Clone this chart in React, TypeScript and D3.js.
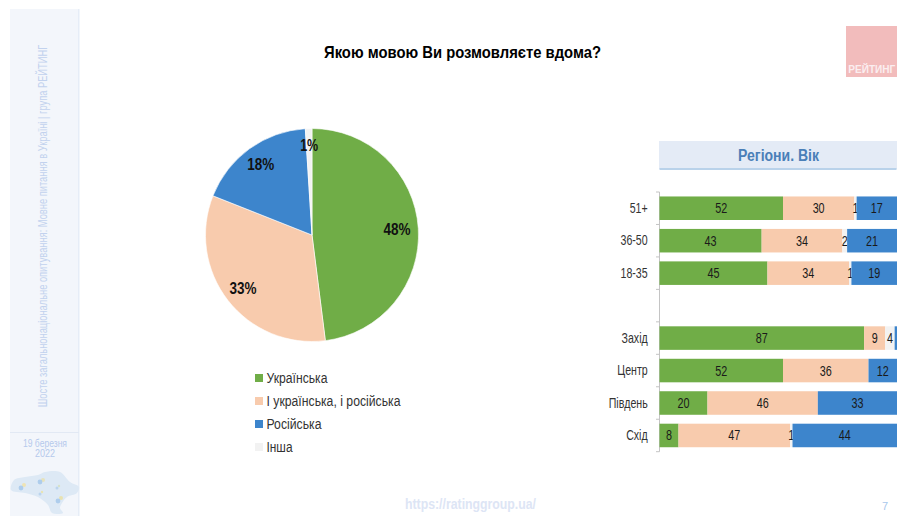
import React from "react";
import * as d3 from "d3";

const WIDTH = 905;
const HEIGHT = 516;

const pieLabels = ["Українська", "І українська, і російська", "Російська", "Інша"];
const pieValues = [48, 33, 18, 1];
const palette = ["#70ad47", "#f8cbad", "#3d85cc", "#f2f2f2"];

const rowLabels = ["51+", "36-50", "18-35", "", "Захід", "Центр", "Південь", "Схід"];
const ukrainian = [52, 43, 45, 0, 87, 52, 20, 8];
const both = [30, 34, 34, 0, 9, 36, 46, 47];
const other = [1, 2, 1, 0, 4, 0, 0, 1];
const russian = [17, 21, 19, 0, 1, 12, 33, 44];

const FONT = "'Liberation Sans', Arial, sans-serif";

// Simplified outline of Ukraine with the small city markers on top of it
const mapOutline = d3.line().curve(d3.curveCatmullRomClosed)([
  [11, 490], [14, 480], [25, 477], [38, 475], [45, 472], [60, 472], [70, 482], [79, 487],
  [77, 493], [67, 497], [62, 503], [60, 508], [63, 513], [52, 513], [48, 505], [38, 497], [25, 493],
]) as string;
const mapMarkers: [number, number, number, string][] = [
  [24, 485, 2, "#eee3b4"], [43, 480, 2, "#e6e2bc"], [59, 486, 1.2, "#d8e2c8"], [42, 492, 1.2, "#e8e4b4"], [61, 498, 2, "#e8e2b0"],
  [21, 488, 2.4, "#aecdec"], [40, 482, 2.4, "#aecdec"], [57, 488, 1.5, "#bcd5ee"], [40, 494, 1.5, "#bcd5ee"], [58, 501, 2.4, "#aecdec"],
];

export default function App() {
  // Pie of the overall answer
  const pieCx = 312;
  const pieCy = 235;
  const pieR = 106.5;
  const arcs = d3.pie<number>().sort(null)(pieValues);
  const arc = d3.arc<d3.PieArcDatum<number>>().innerRadius(0).outerRadius(pieR);
  const labelRadius = [0.8, 0.82, 0.82, 0.845];

  // Stacked bars by age and region, each row filling the full width
  const rows = rowLabels.map((label, i) => ({
    label,
    ukrainian: ukrainian[i],
    both: both[i],
    other: other[i],
    russian: russian[i],
  }));
  const keys = ["ukrainian", "both", "other", "russian"];
  const seriesColor = [palette[0], palette[1], palette[3], palette[2]];
  const stacked = d3
    .stack<(typeof rows)[number]>()
    .keys(keys)
    .offset(d3.stackOffsetExpand)(rows);
  const x = d3.scaleLinear().domain([0, 1]).range([659.5, 897]);
  const y = d3.scaleBand<string>().domain(rowLabels).range([192, 451.7]).paddingInner(0.275).paddingOuter(0.1375);
  const boundaries = d3.range(rowLabels.length + 1).map((i) => 192 + (i * (451.7 - 192)) / rowLabels.length);

  return (
    <svg
      width={WIDTH}
      height={HEIGHT}
      viewBox={`0 0 ${WIDTH} ${HEIGHT}`}
      style={{ position: "absolute", left: 0, top: 0, background: "#fff" }}
      fontFamily={FONT}
    >
      {/* Side strip */}
      <rect x={10} y={9} width={69} height={507} fill="#f3f6fb" />
      <rect x={78} y={9} width={1.5} height={507} fill="#e6edf7" />
      <line x1={10} x2={79} y1={432.5} y2={432.5} stroke="#e2e9f4" />
      <text
        transform="translate(42.5,226) rotate(-90) scale(0.776,1)"
        textAnchor="middle"
        dominantBaseline="central"
        fontSize={12}
        fill="#c2d2ee"
      >
        Шосте загальнонаціональне опитування: Мовне питання в Україні | група РЕЙТИНГ
      </text>
      <text x={45} y={447} textAnchor="middle" fontSize={10} fill="#b5c9ec" textLength={44} lengthAdjust="spacingAndGlyphs">
        19 березня
      </text>
      <text x={45} y={457} textAnchor="middle" fontSize={10} fill="#b5c9ec" textLength={20} lengthAdjust="spacingAndGlyphs">
        2022
      </text>
      <path d={mapOutline} fill="#dde9f5" />
      {mapMarkers.map(([cx, cy, r, c], i) => (
        <circle key={i} cx={cx} cy={cy} r={r} fill={c} />
      ))}

      {/* Heading and logo */}
      <text
        x={462.5}
        y={58}
        textAnchor="middle"
        fontSize={17}
        fontWeight={700}
        fill="#000"
        textLength={277}
        lengthAdjust="spacingAndGlyphs"
      >
        Якою мовою Ви розмовляєте вдома?
      </text>
      <rect x={846} y={26} width={51} height={51} fill="#f2bcbc" />
      <text x={871.8} y={73} textAnchor="middle" fontSize={10} fontWeight={700} fill="#fbeef0" textLength={47} lengthAdjust="spacingAndGlyphs">
        РЕЙТИНГ
      </text>

      {/* Pie */}
      <g transform={`translate(${pieCx},${pieCy})`}>
        {arcs.map((a, i) => (
          <path key={i} d={arc(a) as string} fill={palette[i]} stroke="#fff" strokeWidth={0.6} />
        ))}
        {arcs.map((a, i) => {
          const mid = (a.startAngle + a.endAngle) / 2;
          const r = pieR * labelRadius[i];
          return (
            <text
              key={i}
              x={Math.sin(mid) * r}
              y={-Math.cos(mid) * r}
              textAnchor="middle"
              dominantBaseline="central"
              fontSize={17}
              fontWeight={700}
              fill="#111"
              textLength={i === 3 ? 18 : 27}
              lengthAdjust="spacingAndGlyphs"
            >
              {pieValues[i]}%
            </text>
          );
        })}
      </g>

      {/* Pie legend */}
      {pieLabels.map((label, i) => (
        <g key={label} transform={`translate(255,${378 + i * 23})`}>
          <rect x={0} y={-4} width={8} height={8} fill={palette[i]} />
          <text x={11.5} y={0} dominantBaseline="central" fontSize={14} fill="#333" textLength={[61, 134, 55, 26][i]} lengthAdjust="spacingAndGlyphs">
            {label}
          </text>
        </g>
      ))}

      {/* Panel heading above the bars */}
      <rect x={659} y={141} width={238} height={28} fill="#e4ebf6" />
      <rect x={659.5} y={168} width={237} height={2} fill="#b9d2ea" />
      <text x={778.5} y={160.7} textAnchor="middle" fontSize={16} fontWeight={700} fill="#4a7fb8" textLength={81} lengthAdjust="spacingAndGlyphs">
        Регіони. Вік
      </text>

      {/* Stacked bars */}
      <line x1={659.5} x2={659.5} y1={192} y2={451.7} stroke="#c4c4c4" />
      {boundaries.map((b, i) => (
        <line key={i} x1={656} x2={659.5} y1={b} y2={b} stroke="#c4c4c4" />
      ))}
      {stacked.map((layer, s) => (
        <g key={keys[s]}>
          {layer.map((d, i) => {
            const value = (rows[i] as any)[keys[s]] as number;
            if (!value) return null;
            const x0 = x(d[0]);
            const x1 = x(d[1]);
            // The sliver at the end of the "Захід" row carries no number
            const showLabel = !(rowLabels[i] === "Захід" && keys[s] === "russian");
            return (
              <g key={i}>
                <rect x={x0} y={y(rowLabels[i])} width={x1 - x0} height={y.bandwidth()} fill={seriesColor[s]} />
                {showLabel && (
                  <text
                    x={(x0 + x1) / 2}
                    y={(y(rowLabels[i]) as number) + y.bandwidth() / 2}
                    textAnchor="middle"
                    dominantBaseline="central"
                    fontSize={14}
                    fill="#1a1a1a"
                    textLength={value < 10 ? 6 : 12}
                    lengthAdjust="spacingAndGlyphs"
                  >
                    {value}
                  </text>
                )}
              </g>
            );
          })}
        </g>
      ))}
      {rowLabels.map((label) =>
        label ? (
          <text
            key={label}
            transform={`translate(647.7,${(y(label) as number) + y.bandwidth() / 2}) scale(0.76,1)`}
            textAnchor="end"
            dominantBaseline="central"
            fontSize={14}
            fill="#333"
          >
            {label}
          </text>
        ) : null,
      )}

      {/* Footer */}
      <text x={470.5} y={508.5} textAnchor="middle" fontSize={14} fontWeight={700} fill="#dde5f5" textLength={131} lengthAdjust="spacingAndGlyphs">
        https://ratinggroup.ua/
      </text>
      <text x={885} y={510} textAnchor="middle" fontSize={11} fill="#a9c7ec">
        7
      </text>
    </svg>
  );
}
